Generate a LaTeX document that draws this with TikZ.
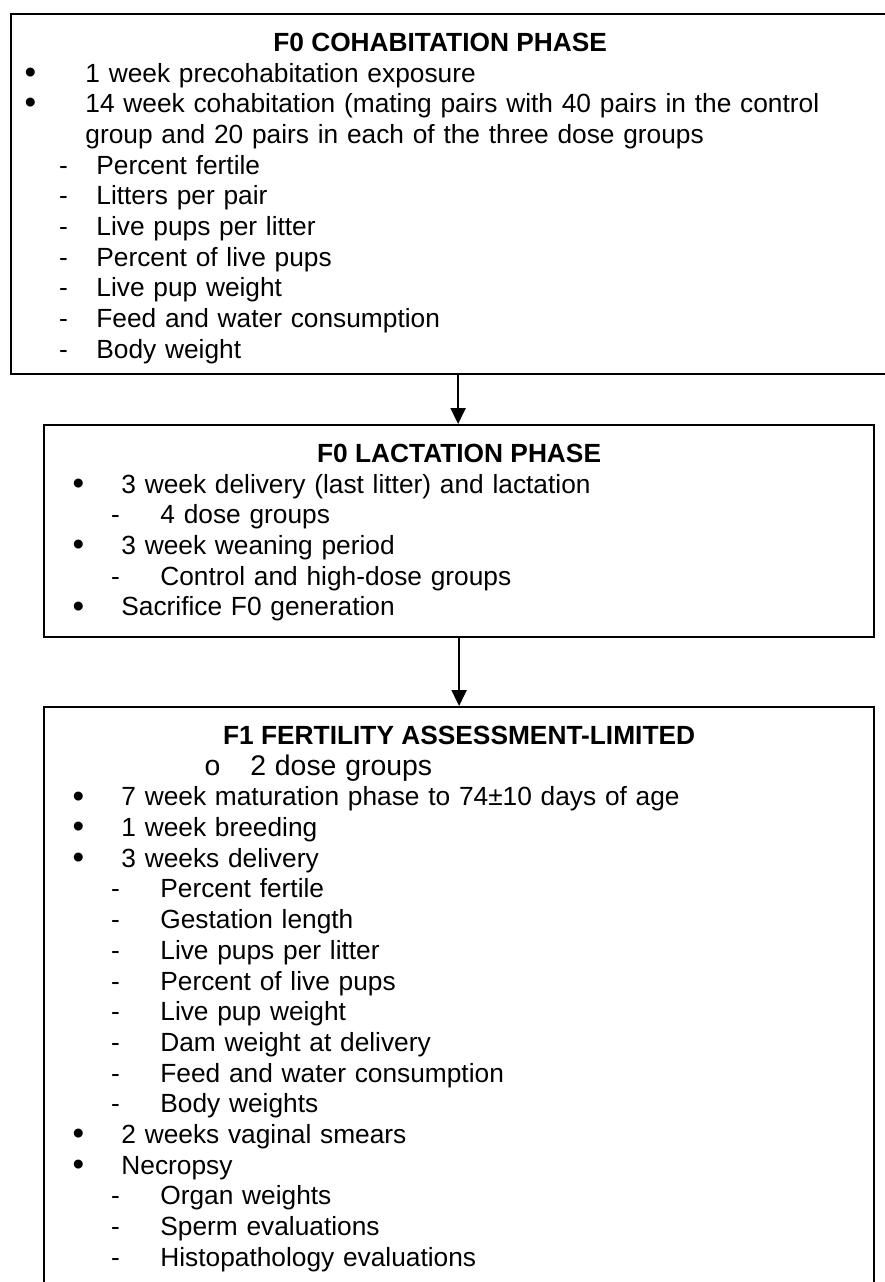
\documentclass[tikz,border=0pt]{standalone}
\usepackage{fontspec}
\setmainfont{Liberation Sans}
\usetikzlibrary{arrows.meta,positioning}

% one pixel of the layout grid
\newlength\px
\setlength\px{0.5pt}

% list markers
\newcommand{\blt}{{\fontsize{16.5pt}{0pt}\selectfont\raisebox{-0.6pt}{\textbullet}}}

% one line of a list: marker centre, marker, text start, text
\newcommand{\entry}[4]{\noindent\strut\hspace*{#1\px}\makebox[0pt]{#2}%
  \hspace*{\dimexpr#3\px-#1\px\relax}#4\par}

\tikzset{
  phasebox/.style   = {draw, line width=1.1pt, rectangle, anchor=north west,
                       inner sep=0pt},
  phasetitle/.style = {inner sep=0pt, font=\fontsize{13.15pt}{15.35pt}\selectfont\bfseries,
                       text height=10.75pt, text depth=4.6pt},
  phaselist/.style  = {inner sep=0pt, align=left, text width=420pt,
                       font=\fontsize{13.15pt}{15.35pt}\selectfont},
}

\begin{document}
\begin{tikzpicture}[x=0.5pt, y=-0.5pt,
  >={Triangle[length=8pt, width=7.5pt]}]

\useasboundingbox (0,0) rectangle (885,1282);
\clip (0,0) rectangle (885,1282);

% the three phases
\node[phasebox, minimum width=447pt, minimum height=180pt] (f0coh) at (10,13) {};
\node[phasebox, minimum width=415pt, minimum height=106pt] (f0lac) at (43,424) {};
\node[phasebox, minimum width=415pt, minimum height=310pt] (f1fert) at (43,706) {};

% titles
\node[phasetitle, below=8.25pt of f0coh.north, xshift=-9pt] (f0cohtitle) {F0 COHABITATION PHASE};
\node[phasetitle, below=8.25pt of f0lac.north] (f0lactitle) {F0 LACTATION PHASE};
\node[phasetitle, below=8.25pt of f1fert.north] (f1ferttitle) {F1 FERTILITY ASSESSMENT-LIMITED};

% contents of each phase
\node[phaselist, below right=23.6pt and 0pt of f0coh.north west] (f0cohlist) {%
  \entry{20}{\blt}{75}{1 week precohabitation exposure}
  \entry{20}{\blt}{75}{14 week cohabitation (mating pairs with 40 pairs in the control}
  \entry{0}{}{75}{group and 20 pairs in each of the three dose groups}
  \entry{53}{-}{86}{Percent fertile}
  \entry{53}{-}{86}{Litters per pair}
  \entry{53}{-}{86}{Live pups per litter}
  \entry{53}{-}{86}{Percent of live pups}
  \entry{53}{-}{86}{Live pup weight}
  \entry{53}{-}{86}{Feed and water consumption}
  \entry{53}{-}{86}{Body weight}};

\node[phaselist, below right=23.6pt and 0pt of f0lac.north west] (f0laclist) {%
  \entry{35}{\blt}{78}{3 week delivery (last litter) and lactation}
  \entry{72}{-}{117}{4 dose groups}
  \entry{35}{\blt}{78}{3 week weaning period}
  \entry{72}{-}{117}{Control and high-dose groups}
  \entry{35}{\blt}{78}{Sacrifice F0 generation}};

\node[phaselist, below right=23.6pt and 0pt of f1fert.north west] (f1fertlist) {%
  {\fontsize{14.2pt}{15.35pt}\selectfont\entry{169}{o}{207}{2 dose groups}}
  \entry{35}{\blt}{78}{7 week maturation phase to 74±10 days of age}
  \entry{35}{\blt}{78}{1 week breeding}
  \entry{35}{\blt}{78}{3 weeks delivery}
  \entry{72}{-}{117}{Percent fertile}
  \entry{72}{-}{117}{Gestation length}
  \entry{72}{-}{117}{Live pups per litter}
  \entry{72}{-}{117}{Percent of live pups}
  \entry{72}{-}{117}{Live pup weight}
  \entry{72}{-}{117}{Dam weight at delivery}
  \entry{72}{-}{117}{Feed and water consumption}
  \entry{72}{-}{117}{Body weights}
  \entry{35}{\blt}{78}{2 weeks vaginal smears}
  \entry{35}{\blt}{78}{Necropsy}
  \entry{72}{-}{117}{Organ weights}
  \entry{72}{-}{117}{Sperm evaluations}
  \entry{72}{-}{117}{Histopathology evaluations}};

\draw[->, line width=1pt] (f0coh.south) -- (f0coh.south |- f0lac.north);
\draw[->, line width=1pt] (f0lac.south) -- (f1fert.north);

\end{tikzpicture}
\end{document}
